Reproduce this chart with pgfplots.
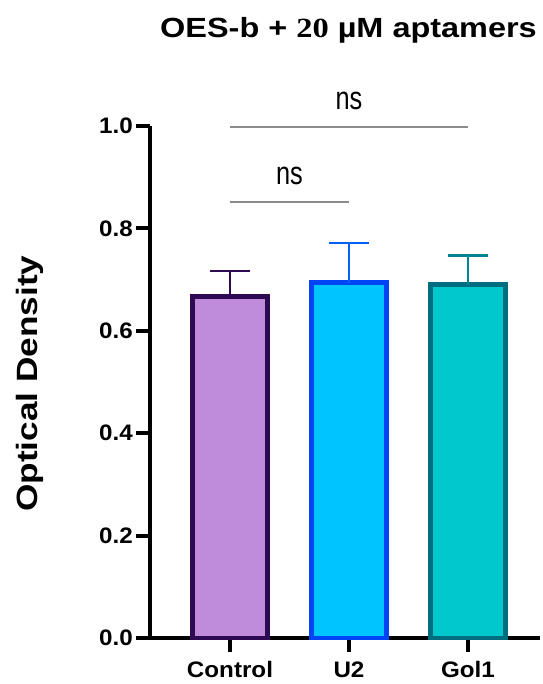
\documentclass[border=0pt]{standalone}
\usepackage{fontspec}
\setmainfont{Liberation Sans}
\newfontfamily\serifb{Liberation Serif}
\newfontfamily\plainsans{Liberation Sans}
\usepackage{graphicx}
\usepackage{pgfplots}
\pgfplotsset{compat=1.18}
\definecolor{cfill}{HTML}{BF8BDB}
\definecolor{cedge}{HTML}{2E0A52}
\definecolor{ufill}{HTML}{00C4FF}
\definecolor{uedge}{HTML}{0044F5}
\definecolor{gfill}{HTML}{00C8CC}
\definecolor{gedge}{HTML}{006E80}
\definecolor{sig}{HTML}{8C8C8C}
\begin{document}
\begin{tikzpicture}
\begin{axis}[
  at={(0,0)}, anchor=south west,
  scale only axis, width=292.5pt, height=384pt,
  xmin=-0.672, xmax=2.605, ymin=0, ymax=1.0,
  axis lines=left, axis line style={-, line width=3pt},
  clip=false,
  ybar, bar shift=0pt, bar width=0.63,
  xtick={0,1,2}, xticklabels={Control,U2,Gol1},
  ytick={0,0.2,0.4,0.6,0.8,1.0},
  tick align=outside, major tick length=10.5pt,
  tick style={line width=3pt, black},
  /pgf/number format/assume math mode=true,
  /pgf/number format/.cd, fixed, fixed zerofill, precision=1, /pgfplots/.cd,
  ticklabel style={font=\bfseries\fontsize{16.8}{19}\selectfont, xscale=1.08},
  yticklabel style={inner sep=2pt},
  xticklabel style={inner sep=2pt, yshift=-5pt},
  error bars/y dir=plus, error bars/y explicit,
]
\addplot[fill=cfill, draw=cedge, line width=3.7pt,
  error bars/error bar style={line width=1.6pt, cedge},
  error bars/error mark options={rotate=90, mark size=14.7pt, line width=1.6pt, cedge}]
  coordinates {(0,0.667) +- (0,0.049)};
\addplot[fill=ufill, draw=uedge, line width=3.7pt,
  error bars/error bar style={line width=1.6pt, uedge!85!cyan},
  error bars/error mark options={rotate=90, mark size=14.7pt, line width=1.6pt, uedge!85!cyan}]
  coordinates {(1,0.694) +- (0,0.077)};
\addplot[fill=gfill, draw=gedge, line width=3.7pt,
  error bars/error bar style={line width=1.6pt, gedge!85!cyan},
  error bars/error mark options={rotate=90, mark size=14.7pt, line width=1.6pt, gedge!85!cyan}]
  coordinates {(2,0.690) +- (0,0.057)};
\draw[sig, line width=1.1pt] (axis cs:0,0.998) -- (axis cs:2,0.998);
\draw[sig, line width=1.1pt] (axis cs:0,0.852) -- (axis cs:1,0.852);
\node[anchor=base, inner sep=0pt] at (axis cs:1,1.033) {\scalebox{1}[1.28]{\plainsans\fontsize{19}{22}\selectfont ns}};
\node[anchor=base, inner sep=0pt] at (axis cs:0.5,0.885) {\scalebox{1}[1.28]{\plainsans\fontsize{19}{22}\selectfont ns}};
\node[anchor=base, inner sep=0pt] at (rel axis cs:0.509,1.1719) {\scalebox{1.17}[1]{\bfseries\fontsize{20.8}{24}\selectfont OES-b + {\serifb\bfseries 20} µM aptamers}};
\node[anchor=base, inner sep=0pt, rotate=90] at (rel axis cs:-0.2897,0.497) {\scalebox{1.2}[1]{\bfseries\fontsize{22}{26}\selectfont Optical Density}};
\end{axis}
\pgfresetboundingbox
\useasboundingbox (-112.5pt,-34.5pt) rectangle (294pt,478.5pt);
\end{tikzpicture}
\end{document}
